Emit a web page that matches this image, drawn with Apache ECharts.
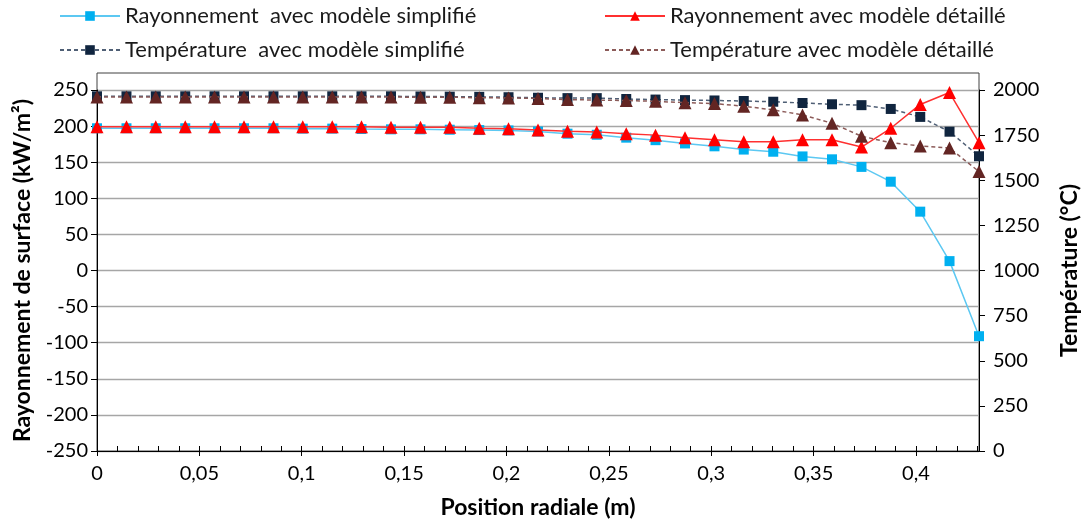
<!DOCTYPE html>
<html>
<head>
<meta charset="utf-8">
<script src="https://cdn.jsdelivr.net/npm/echarts@6/dist/echarts.min.js"></script>
<style>
html,body{margin:0;padding:0;background:#fff;}
#chart{width:1089px;height:524px;}
</style>
</head>
<body>
<div id="chart"></div>
<script>
// Radial positions (m)
const positions = [0, 0.0144, 0.0287, 0.0431, 0.0574, 0.0718, 0.0862, 0.1005, 0.1149, 0.1292,
  0.1436, 0.158, 0.1723, 0.1867, 0.201, 0.2154, 0.2298, 0.2441, 0.2585, 0.2728,
  0.2872, 0.3016, 0.3159, 0.3303, 0.3446, 0.359, 0.3734, 0.3877, 0.4021, 0.4164, 0.4308];

// Surface radiation (kW/m²)
const rayonSimplifie = [197, 197, 197, 197, 197, 197, 197, 196.5, 196.5, 196,
  195.5, 195.5, 195, 194.5, 194, 192.5, 189.5, 188, 184, 180.5,
  176, 172, 167.5, 164.5, 158, 154, 143.5, 123, 81.5, 13, -91];
const rayonDetaille = [199, 199, 199, 199, 199, 199, 199, 199, 199, 199,
  198.5, 198.5, 198.5, 197, 196.5, 194.5, 193, 192, 189.5, 187.5,
  184, 181, 178.3, 178.3, 181, 181, 171, 197, 230, 246.5, 177];

// Temperature (°C)
const tempSimplifie = [1965, 1965, 1965, 1965, 1965, 1965, 1965, 1965, 1965, 1965,
  1965, 1964, 1963, 1962, 1960, 1957, 1955, 1955, 1950, 1947,
  1944, 1942, 1939, 1935, 1928, 1921, 1916, 1895, 1851, 1769, 1633];
const tempDetaille = [1961, 1961, 1961, 1961, 1961, 1961, 1961, 1961, 1961, 1961,
  1961, 1960, 1960, 1957, 1956, 1953, 1947, 1944, 1942, 1937,
  1930, 1925, 1910, 1890, 1862, 1816, 1744, 1708, 1690, 1678, 1548];

const seriesNames = [
  'Rayonnement  avec modèle simplifié',
  'Rayonnement avec modèle détaillé',
  'Température  avec modèle simplifié',
  'Température avec modèle détaillé'
];

const xMin = 0, xMax = 0.4308;
const FONT = 'Lato';

function pairs(vals) { return positions.map((x, i) => [x, vals[i]]); }

const chart = echarts.init(document.getElementById('chart'), null, {renderer: 'canvas'});

const legendText = {fontFamily: FONT, fontSize: 22, color: '#1a1a1a'};
function legend(name, left, top) {
  return {data: [name], left: left, top: top, padding: 0, itemWidth: 60, itemHeight: 12, itemGap: 0,
    textStyle: legendText, selectedMode: false};
}

const titleStyle = {fontFamily: FONT, fontSize: 23, fontWeight: 'bold', color: '#000'};

const option = {
  animation: false,
  backgroundColor: '#fff',
  legend: [
    legend(seriesNames[0], 59, 5),
    legend(seriesNames[1], 604, 5),
    legend(seriesNames[2], 59, 39),
    legend(seriesNames[3], 604, 39)
  ],
  grid: {left: 97, right: 110, top: 90, bottom: 73, containLabel: false},
  graphic: [{
    type: 'rect', z: -1, silent: true,
    shape: {x: 97, y: 73, width: 882, height: 378},
    style: {fill: 'none', stroke: '#404040', lineWidth: 1}
  }],
  xAxis: [{
    type: 'value', min: xMin, max: xMax, interval: 0.05, position: 'bottom',
    name: 'Position radiale (m)', nameLocation: 'middle', nameGap: 45,
    nameTextStyle: titleStyle,
    axisLine: {onZero: false, lineStyle: {color: '#000', width: 1}},
    axisTick: {show: true, length: 5, lineStyle: {color: '#000'}},
    axisLabel: {showMaxLabel: false, margin: 13, fontFamily: FONT, fontSize: 20, color: '#000',
      formatter: v => String(+v.toFixed(2)).replace('.', ',')},
    splitLine: {show: false}
  }, {
    type: 'value', min: xMin, max: xMax, interval: 0.01, position: 'bottom',
    axisLine: {show: false, onZero: false},
    axisTick: {show: true, inside: true, length: 5, lineStyle: {color: '#000'}},
    axisLabel: {show: false},
    splitLine: {show: false}
  }],
  yAxis: [{
    type: 'value', min: -250, max: 250, interval: 50, position: 'left',
    name: 'Rayonnement de surface (kW/m²)', nameLocation: 'middle', nameGap: 63, nameRotate: 90,
    nameTextStyle: titleStyle,
    axisLine: {show: true, onZero: false, lineStyle: {color: '#000', width: 1}},
    axisTick: {show: true, length: 6, lineStyle: {color: '#000'}},
    axisLabel: {margin: 9, fontFamily: FONT, fontSize: 20, color: '#000'},
    splitLine: {show: true, lineStyle: {color: '#a6a6a6', width: 1.3}}
  }, {
    type: 'value', min: 0, max: 2000, interval: 250, position: 'right',
    name: 'Température (°C)', nameLocation: 'middle', nameGap: 79, nameRotate: 90,
    nameTextStyle: titleStyle,
    axisLine: {show: true, onZero: false, lineStyle: {color: '#000', width: 1}},
    axisTick: {show: true, length: 6, lineStyle: {color: '#000'}},
    axisLabel: {margin: 14, fontFamily: FONT, fontSize: 20, color: '#000',
      formatter: v => String(v)},
    splitLine: {show: false}
  }],
  series: [{
    name: seriesNames[0], type: 'line', xAxisIndex: 0, yAxisIndex: 0,
    data: pairs(rayonSimplifie), symbol: 'rect', symbolSize: 10,
    itemStyle: {color: '#00B0F0'},
    lineStyle: {color: '#5CC8F2', width: 1.5}, z: 2
  }, {
    name: seriesNames[2], type: 'line', xAxisIndex: 0, yAxisIndex: 1,
    data: pairs(tempSimplifie), symbol: 'rect', symbolSize: 10,
    itemStyle: {color: '#10253F'},
    lineStyle: {color: '#4F5F75', width: 1.5, type: [4, 3]}, z: 3
  }, {
    name: seriesNames[1], type: 'line', xAxisIndex: 0, yAxisIndex: 0,
    data: pairs(rayonDetaille), symbol: 'triangle', symbolSize: 13,
    itemStyle: {color: '#FF0000'},
    lineStyle: {color: '#FF3030', width: 1.5}, z: 4
  }, {
    name: seriesNames[3], type: 'line', xAxisIndex: 0, yAxisIndex: 1,
    data: pairs(tempDetaille), symbol: 'triangle', symbolSize: 13,
    itemStyle: {color: '#632523'},
    lineStyle: {color: '#8C5B59', width: 1.5, type: [4, 3]}, z: 5
  }]
};

chart.setOption(option);
</script>
</body>
</html>
